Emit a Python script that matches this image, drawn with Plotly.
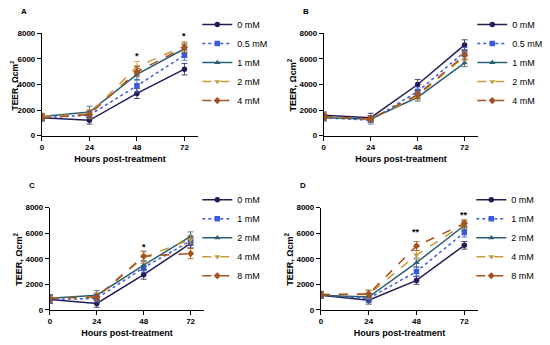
import plotly.graph_objects as go

hours = [0, 24, 48, 72]
y_ticks = [0, 2000, 4000, 6000, 8000]

# Panel A
a_labels = ["0 mM", "0.5 mM", "1 mM", "2 mM", "4 mM"]
a_vals = [
    [1400, 1200, 3300, 5200],
    [1400, 1600, 3900, 6300],
    [1500, 1850, 4800, 6800],
    [1500, 1700, 5400, 7000],
    [1400, 1650, 5000, 6900],
]
a_err = [
    [250, 300, 400, 450],
    [250, 300, 500, 400],
    [250, 450, 450, 350],
    [250, 350, 400, 350],
    [250, 300, 400, 350],
]
a_star_x = [48, 72]
a_star_y = [6250, 7800]
a_star_t = ["*", "*"]

# Panel B
b_labels = ["0 mM", "0.5 mM", "1 mM", "2 mM", "4 mM"]
b_vals = [
    [1600, 1400, 4000, 7100],
    [1400, 1200, 3450, 6550],
    [1400, 1300, 3000, 5700],
    [1500, 1300, 3100, 6200],
    [1500, 1300, 3200, 6300],
]
b_err = [
    [250, 350, 400, 400],
    [250, 300, 350, 350],
    [250, 250, 300, 300],
    [250, 250, 300, 350],
    [250, 250, 300, 350],
]

# Panel C
c_labels = ["0 mM", "1 mM", "2 mM", "4 mM", "8 mM"]
c_vals = [
    [800, 500, 2750, 5200],
    [800, 900, 3300, 5400],
    [900, 1150, 3500, 5750],
    [900, 1000, 4100, 5500],
    [900, 1000, 4200, 4400],
]
c_err = [
    [300, 300, 350, 350],
    [300, 300, 350, 350],
    [300, 350, 350, 350],
    [300, 300, 450, 350],
    [300, 300, 400, 400],
]
c_star_x = [48]
c_star_y = [4900]
c_star_t = ["*"]

# Panel D
d_labels = ["0 mM", "1 mM", "2 mM", "4 mM", "8 mM"]
d_vals = [
    [1150, 750, 2300, 5050],
    [1150, 900, 3000, 6050],
    [1150, 1000, 3700, 6600],
    [1200, 1200, 4300, 6700],
    [1200, 1250, 5000, 6750],
]
d_err = [
    [250, 300, 300, 300],
    [250, 300, 350, 350],
    [250, 300, 350, 300],
    [250, 300, 350, 300],
    [250, 300, 350, 300],
]
d_star_x = [48, 72]
d_star_y = [6100, 7450]
d_star_t = ["**", "**"]

colors = ["#231c55", "#3b5bdb", "#2b5d73", "#c99a3c", "#a4521e"]
dashes = ["solid", "dot", "solid", "dash", "dash"]
symbols = ["circle", "square", "triangle-up", "triangle-down", "diamond"]

OFF = 8  # default page body margin
W, H = 550 - OFF, 345 - OFF
FONT = "Liberation Sans, Arial, sans-serif"


def fx(px):
    return (px - OFF) / W


def fy(py):
    return 1 - (py - OFF) / H


fig = go.Figure()

panels = [
    dict(letter="A", labels=a_labels, vals=a_vals, err=a_err, sx=a_star_x, sy=a_star_y, st=a_star_t,
         xpx=(40, 197), ypx=(30, 135), leg=(196, 6)),
    dict(letter="B", labels=b_labels, vals=b_vals, err=b_err, sx=[], sy=[], st=[],
         xpx=(323, 478), ypx=(30, 135), leg=(472, 6)),
    dict(letter="C", labels=c_labels, vals=c_vals, err=c_err, sx=c_star_x, sy=c_star_y, st=c_star_t,
         xpx=(48, 203), ypx=(209, 314), leg=(196, 186)),
    dict(letter="D", labels=d_labels, vals=d_vals, err=d_err, sx=d_star_x, sy=d_star_y, st=d_star_t,
         xpx=(320, 478), ypx=(209, 314), leg=(471, 186)),
]

layout = {}
annotations = []
for k, p in enumerate(panels):
    n = "" if k == 0 else str(k + 1)
    xa, ya = "x" + n, "y" + n
    legname = "legend" + ("" if k == 0 else str(k + 1))
    for i, lab in enumerate(p["labels"]):
        fig.add_trace(go.Scatter(
            x=hours, y=p["vals"][i], name=lab, mode="lines+markers",
            xaxis=xa, yaxis=ya, legend=legname,
            line=dict(color=colors[i], width=1.5, dash=dashes[i]),
            marker=dict(symbol=symbols[i], size=5.5, color=colors[i]),
            error_y=dict(type="data", array=p["err"][i], visible=True,
                         color=colors[i], thickness=0.8, width=3),
        ))
    x0, x1 = p["xpx"]
    y0, y1 = p["ypx"]
    axis_common = dict(showgrid=False, zeroline=False, showline=True, linecolor="black",
                       linewidth=1, ticks="outside", ticklen=4, tickcolor="black",
                       tickfont=dict(family=FONT, size=8, color="black", weight="bold"))
    layout["xaxis" + n] = dict(
        domain=[fx(x0), fx(x1)], anchor=ya, range=[0, 79], tickvals=hours,
        title=dict(text="Hours post-treatment", font=dict(family=FONT, size=9, color="black", weight="bold"),
                   standoff=4),
        **axis_common)
    layout["yaxis" + n] = dict(
        domain=[fy(y1), fy(y0)], anchor=xa, range=[0, 8000], tickvals=y_ticks,
        **axis_common)
    # y-axis title as rotated text
    annotations.append(dict(x=fx(max(x0 - 32, 13)), y=fy((y0 + y1) / 2), xref="paper", yref="paper",
                            text="TEER, Ωcm<sup>2</sup>", textangle=-90, showarrow=False,
                            xanchor="center", yanchor="middle",
                            font=dict(family=FONT, size=9 if x0 - 32 >= 13 else 8.5,
                                      color="black", weight="bold")))
    lx, ly = p["leg"]
    layout[legname] = dict(x=fx(lx), y=fy(ly), xanchor="left", yanchor="top",
                           font=dict(family=FONT, size=9, color="black"),
                           bgcolor="rgba(0,0,0,0)", itemwidth=30)
    for sx, sy, st in zip(p["sx"], p["sy"], p["st"]):
        annotations.append(dict(x=sx, y=sy, xref=xa, yref=ya, text=st, showarrow=False,
                                font=dict(family=FONT, size=9, color="black", weight="bold")))
    annotations.append(dict(x=fx(x0 - 23), y=fy(y0 - 23), xref="paper", yref="paper",
                            text=p["letter"], showarrow=False, xanchor="left", yanchor="middle",
                            font=dict(family=FONT, size=8, color="black", weight="bold")))

fig.update_layout(
    width=W, height=H, margin=dict(l=0, r=0, t=0, b=0),
    paper_bgcolor="white", plot_bgcolor="white",
    showlegend=True, annotations=annotations, **layout,
)

fig.write_html("out.html")
